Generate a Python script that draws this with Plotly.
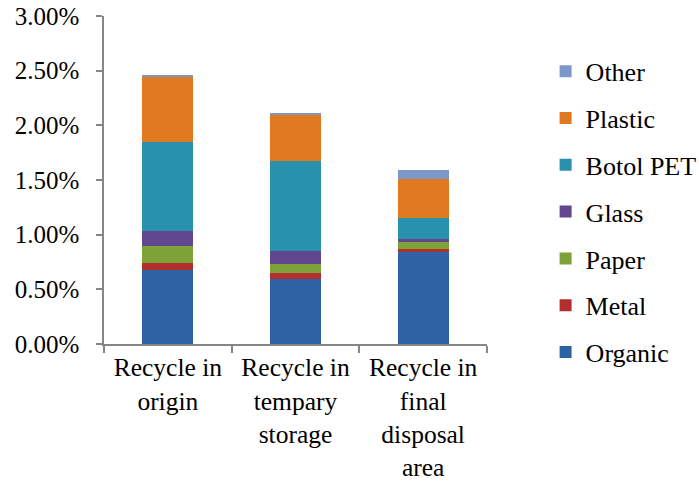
import plotly.graph_objects as go

categories = ["Recycle in<br>origin", "Recycle in<br>tempary<br>storage", "Recycle in<br>final<br>disposal<br>area"]
organic = [0.0068, 0.0059, 0.0084]
metal = [0.0006, 0.00055, 0.00025]
paper = [0.0016, 0.0009, 0.0007]
glass = [0.0013, 0.00115, 0.00025]
botol_pet = [0.0082, 0.0082, 0.00195]
plastic = [0.0059, 0.0042, 0.0035]
other = [0.0002, 0.0002, 0.0009]

series = [
    ("Organic", organic, "#2f62a4"),
    ("Metal", metal, "#b32f2d"),
    ("Paper", paper, "#7ea23a"),
    ("Glass", glass, "#634690"),
    ("Botol PET", botol_pet, "#2891ad"),
    ("Plastic", plastic, "#e0791f"),
    ("Other", other, "#7d97c8"),
]

fig = go.Figure()
n = len(series)
for i, (name, vals, col) in enumerate(series):
    fig.add_trace(go.Bar(x=categories, y=vals, name=name, marker=dict(color=col, line=dict(width=0)),
                         legendgroup=name, legendrank=n - i))

font = "Liberation Serif"
fig.update_layout(
    barmode="stack",
    bargap=0.6,
    width=699, height=483,
    margin=dict(l=104, r=212, t=16, b=139, autoexpand=False),
    paper_bgcolor="white", plot_bgcolor="white",
    font=dict(family=font, size=26, color="black"),
    legend=dict(traceorder="grouped", x=1.153, xanchor="left", y=0.403, yanchor="middle",
                tracegroupgap=10, font=dict(family=font, size=26, color="black"), itemwidth=30),
    showlegend=True,
)
fig.update_yaxes(range=[0, 0.03], dtick=0.005, tickformat=".2%", showgrid=False, zeroline=False,
                 showline=True, linecolor="#868686", linewidth=1.5, ticks="outside", ticklen=6,
                 tickcolor="#868686", tickwidth=1.5, tickfont=dict(family=font, size=25, color="black"),
                 automargin=False, ticklabelstandoff=12)
fig.update_xaxes(showline=True, linecolor="#868686", linewidth=1.5, ticks="outside", ticklen=7,
                 tickcolor="#868686", tickwidth=1.5, tickson="boundaries",
                 tickfont=dict(family=font, size=25.5, color="black"),
                 showgrid=False, automargin=False, tickangle=0, ticklabelstandoff=0)
fig.write_html("out.html", config={"displayModeBar": False},
               post_script="document.body.style.margin='0';")
